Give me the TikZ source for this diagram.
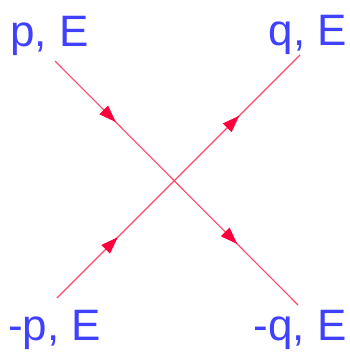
\documentclass[tikz,border=0pt]{standalone}
\usepackage{fontspec}
\setmainfont{Liberation Sans}
\usetikzlibrary{decorations.markings,arrows.meta}
\definecolor{lbl}{RGB}{64,64,255}
\definecolor{prop}{RGB}{255,70,110}
\definecolor{tip}{RGB}{255,0,60}
\tikzset{
  lab/.style={text=lbl,font=\fontsize{44}{44}\selectfont,inner sep=0pt},
  fermion/.style={draw=prop,line width=1.1pt,
    postaction={decorate,decoration={markings,
      mark=at position 0.25 with {\arrow[tip]{Triangle[length=17pt,width=12pt]}},
      mark=at position 0.75 with {\arrow[tip]{Triangle[length=17pt,width=12pt]}}}}}
}
\begin{document}
\begin{tikzpicture}[x=1pt,y=-1pt]
\useasboundingbox (0,0) rectangle (349,356);
\node[lab,anchor=base west] (tl) at (10,46) {p, E};
\node[lab,anchor=base east] (tr) at (347,45) {q, E};
\node[lab,anchor=base west] (bl) at (8,340) {-p, E};
\node[lab,anchor=base east] (br) at (347,340) {-q, E};
\coordinate (a1) at (55,61);
\coordinate (a2) at (298,305);
\coordinate (b1) at (57,298);
\coordinate (b2) at (300,55);
\draw[fermion] (a1) -- (a2);
\draw[fermion] (b1) -- (b2);
\end{tikzpicture}
\end{document}
